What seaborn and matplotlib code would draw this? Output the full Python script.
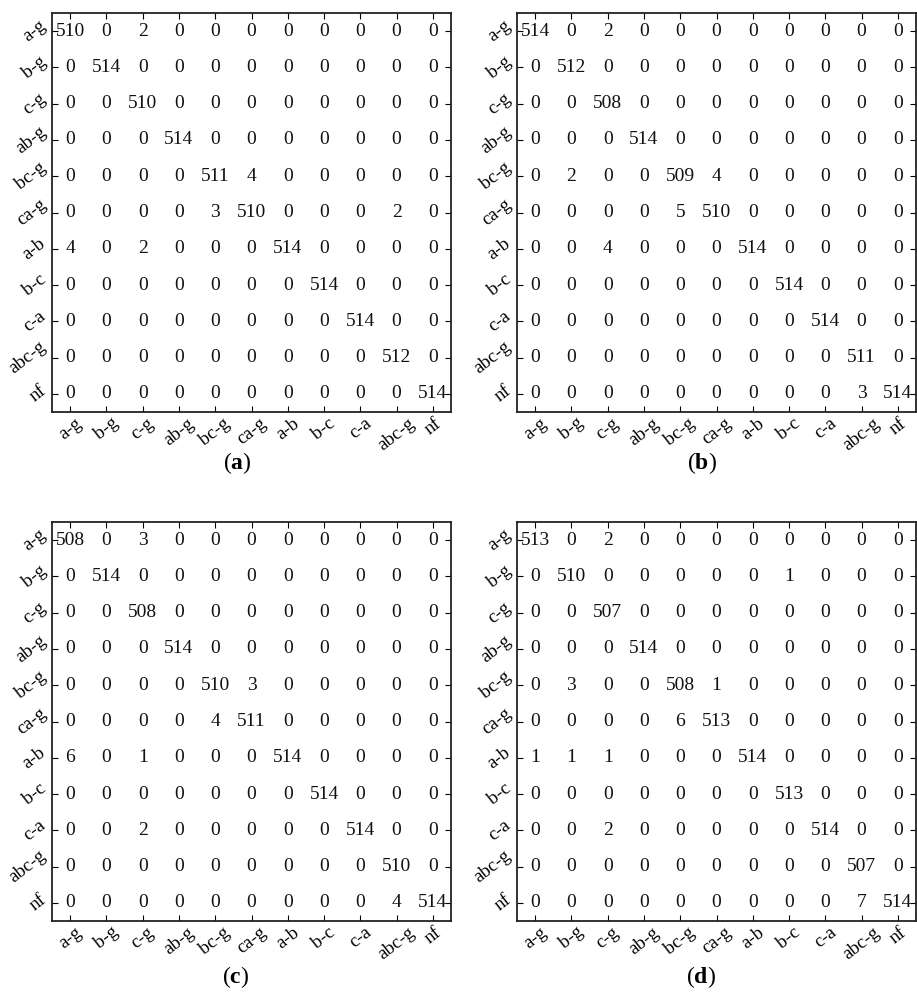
import numpy as np
import pandas as pd
import seaborn as sns
import matplotlib.pyplot as plt
from matplotlib.colors import ListedColormap

classes = ['a-g', 'b-g', 'c-g', 'ab-g', 'bc-g', 'ca-g', 'a-b', 'b-c', 'c-a', 'abc-g', 'nf']

cm_a = [[510, 0, 2, 0, 0, 0, 0, 0, 0, 0, 0],
        [0, 514, 0, 0, 0, 0, 0, 0, 0, 0, 0],
        [0, 0, 510, 0, 0, 0, 0, 0, 0, 0, 0],
        [0, 0, 0, 514, 0, 0, 0, 0, 0, 0, 0],
        [0, 0, 0, 0, 511, 4, 0, 0, 0, 0, 0],
        [0, 0, 0, 0, 3, 510, 0, 0, 0, 2, 0],
        [4, 0, 2, 0, 0, 0, 514, 0, 0, 0, 0],
        [0, 0, 0, 0, 0, 0, 0, 514, 0, 0, 0],
        [0, 0, 0, 0, 0, 0, 0, 0, 514, 0, 0],
        [0, 0, 0, 0, 0, 0, 0, 0, 0, 512, 0],
        [0, 0, 0, 0, 0, 0, 0, 0, 0, 0, 514]]

cm_b = [[514, 0, 2, 0, 0, 0, 0, 0, 0, 0, 0],
        [0, 512, 0, 0, 0, 0, 0, 0, 0, 0, 0],
        [0, 0, 508, 0, 0, 0, 0, 0, 0, 0, 0],
        [0, 0, 0, 514, 0, 0, 0, 0, 0, 0, 0],
        [0, 2, 0, 0, 509, 4, 0, 0, 0, 0, 0],
        [0, 0, 0, 0, 5, 510, 0, 0, 0, 0, 0],
        [0, 0, 4, 0, 0, 0, 514, 0, 0, 0, 0],
        [0, 0, 0, 0, 0, 0, 0, 514, 0, 0, 0],
        [0, 0, 0, 0, 0, 0, 0, 0, 514, 0, 0],
        [0, 0, 0, 0, 0, 0, 0, 0, 0, 511, 0],
        [0, 0, 0, 0, 0, 0, 0, 0, 0, 3, 514]]

cm_c = [[508, 0, 3, 0, 0, 0, 0, 0, 0, 0, 0],
        [0, 514, 0, 0, 0, 0, 0, 0, 0, 0, 0],
        [0, 0, 508, 0, 0, 0, 0, 0, 0, 0, 0],
        [0, 0, 0, 514, 0, 0, 0, 0, 0, 0, 0],
        [0, 0, 0, 0, 510, 3, 0, 0, 0, 0, 0],
        [0, 0, 0, 0, 4, 511, 0, 0, 0, 0, 0],
        [6, 0, 1, 0, 0, 0, 514, 0, 0, 0, 0],
        [0, 0, 0, 0, 0, 0, 0, 514, 0, 0, 0],
        [0, 0, 2, 0, 0, 0, 0, 0, 514, 0, 0],
        [0, 0, 0, 0, 0, 0, 0, 0, 0, 510, 0],
        [0, 0, 0, 0, 0, 0, 0, 0, 0, 4, 514]]

cm_d = [[513, 0, 2, 0, 0, 0, 0, 0, 0, 0, 0],
        [0, 510, 0, 0, 0, 0, 0, 1, 0, 0, 0],
        [0, 0, 507, 0, 0, 0, 0, 0, 0, 0, 0],
        [0, 0, 0, 514, 0, 0, 0, 0, 0, 0, 0],
        [0, 3, 0, 0, 508, 1, 0, 0, 0, 0, 0],
        [0, 0, 0, 0, 6, 513, 0, 0, 0, 0, 0],
        [1, 1, 1, 0, 0, 0, 514, 0, 0, 0, 0],
        [0, 0, 0, 0, 0, 0, 0, 513, 0, 0, 0],
        [0, 0, 2, 0, 0, 0, 0, 0, 514, 0, 0],
        [0, 0, 0, 0, 0, 0, 0, 0, 0, 507, 0],
        [0, 0, 0, 0, 0, 0, 0, 0, 0, 7, 514]]

panel_labels = ['a', 'b', 'c', 'd']

plt.rcParams['font.family'] = ['Liberation Serif', 'DejaVu Serif']
plt.rcParams['mathtext.fontset'] = 'custom'
plt.rcParams['mathtext.rm'] = 'Liberation Serif'
plt.rcParams['mathtext.bf'] = 'Liberation Serif:bold'

W, H = 917, 994
fig = plt.figure(figsize=(W / 100, H / 100), dpi=100)

# axes boxes in pixels: left, top, size
boxes = [(52, 13), (517, 13), (52, 522), (517, 522)]
side = 399
label_pos = [(237, 463), (702, 463), (236, 977), (701, 977)]

for cm, (lx, ty), lab, (px, py) in zip([cm_a, cm_b, cm_c, cm_d], boxes, panel_labels, label_pos):
    ax = fig.add_axes([lx / W, (H - ty - side) / H, side / W, side / H])
    df = pd.DataFrame(cm, index=classes, columns=classes)
    sns.heatmap(df, ax=ax, cmap=ListedColormap(['white']), cbar=False,
                annot=True, fmt='d', annot_kws={'size': 14, 'color': '#111111'})
    for s in ax.spines.values():
        s.set_visible(True)
        s.set_linewidth(1.3)
        s.set_color('#222222')
    ax.tick_params(direction='in', length=4, width=0.8, top=True, right=True, pad=2)
    ax.set_xticklabels(classes, rotation=38, ha='center', fontsize=13.5)
    ax.set_yticklabels(classes, rotation=38, ha='right', va='center', fontsize=13.5)
    ax.set_xlabel('')
    ax.set_ylabel('')
    fig.text(px / W, 1 - py / H, r'($\mathbf{' + lab + '}$)', ha='center', va='center',
             fontsize=17)

fig.savefig('out.png', dpi=100)
